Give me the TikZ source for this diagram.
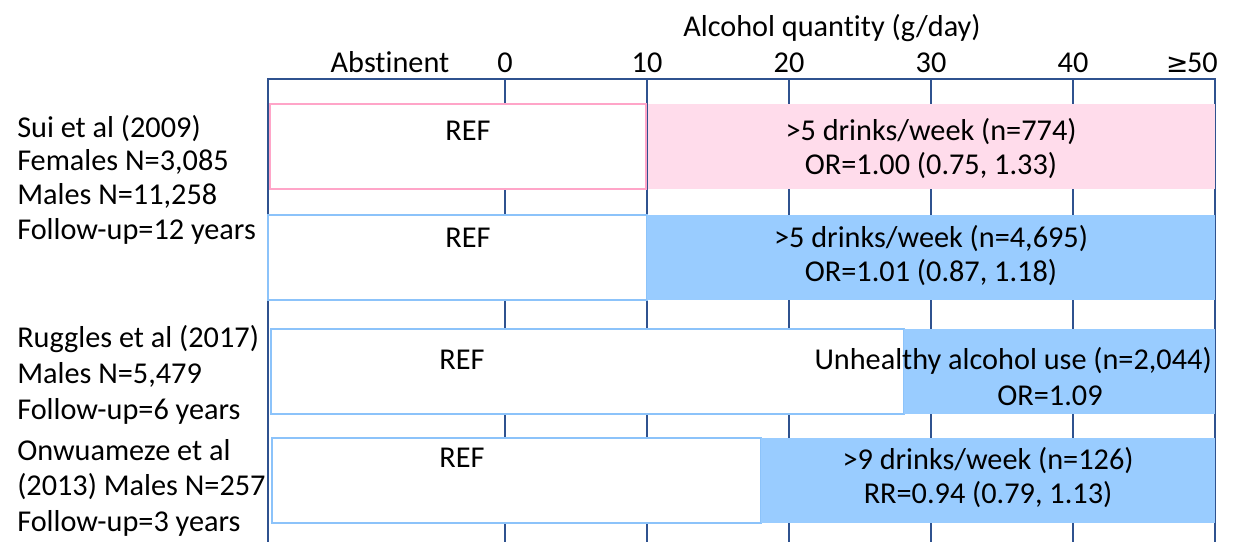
\documentclass[tikz,border=0pt]{standalone}
\usepackage{fontspec}
\setmainfont[Ligatures=NoCommon]{Carlito}
\newfontfamily\symfont{DejaVu Sans}
\begin{document}
\begin{tikzpicture}[x=0.75pt,y=-0.75pt,
  grid/.style={draw=gridblue,line width=1.1pt},
  refpink/.style={draw=pinkline,fill=white,line width=1.4pt},
  refblue/.style={draw=blueline,fill=white,line width=1.4pt},
  pinkbar/.style={fill=pinkfill},
  bluebar/.style={fill=bluefill},
  txt/.style={inner sep=0pt,anchor=base,font=\fontsize{22.7}{26}\selectfont},
  lbl/.style={inner sep=0pt,anchor=base west,font=\fontsize{22.7}{26}\selectfont}]
\definecolor{gridblue}{RGB}{47,82,143}
\definecolor{pinkline}{RGB}{255,165,200}
\definecolor{pinkfill}{RGB}{255,220,235}
\definecolor{blueline}{RGB}{140,195,250}
\definecolor{bluefill}{RGB}{153,204,255}
\useasboundingbox (0,0) rectangle (1241,542);
% frame and grid
\draw[grid] (268,542) -- (268,79) -- (1215,79) -- (1215,542);
\foreach \x in {505,647,789,931,1073}{\draw[grid] (\x,79) -- (\x,542);}
% axis labels
\node[txt] (title) at (832,37) {Alcohol quantity (g/day)};
\node[txt] (tabs) at (390,73) {Abstinent};
\node[txt] (t0) at (505,73) {0};
\node[txt] (t10) at (647,73) {10};
\node[txt] (t20) at (789,73) {20};
\node[txt] (t30) at (931,73) {30};
\node[txt] (t40) at (1073,73) {40};
\node[txt,anchor=base east] (t50) at (1218,73) {{\symfont\fontsize{20}{22}\selectfont ≥}\kern-1pt50};
% row 1 (females)
\path[refpink] (270,104) rectangle (646,189);
\path[pinkbar] (648,104) rectangle (1215,189);
\node[txt] (r1ref) at (468,140) {REF};
\node[txt] (r1a) at (931,140) {>5 drinks/week (n=774)};
\node[txt] (r1b) at (931,174) {OR=1.00 (0.75, 1.33)};
% row 2 (males)
\path[refblue] (268,215) rectangle (647,300);
\path[bluebar] (647,215) rectangle (1215,300);
\node[txt] (r2ref) at (468,247) {REF};
\node[txt] (r2a) at (931,247) {>5 drinks/week (n=4,695)};
\node[txt] (r2b) at (931,281) {OR=1.01 (0.87, 1.18)};
% row 3
\path[refblue] (271,329) rectangle (904,414);
\path[bluebar] (904,329) rectangle (1215,414);
\node[txt] (r3ref) at (462,369) {REF};
\node[txt,anchor=base east] (r3a) at (1212,369) {Unhealthy alcohol use (n=2,044)};
\node[txt] (r3b) at (1050,405) {OR=1.09};
% row 4
\path[refblue] (272,438) rectangle (761,523);
\path[bluebar] (761,438) rectangle (1215,523);
\node[txt] (r4ref) at (462,467) {REF};
\node[txt] (r4a) at (988,469) {>9 drinks/week (n=126)};
\node[txt] (r4b) at (988,503) {RR=0.94 (0.79, 1.13)};
% study labels
\node[lbl] (s1a) at (17,137) {Sui et al (2009)};
\node[lbl] (s1b) at (17,170) {Females N=3,085};
\node[lbl] (s1c) at (17,204) {Males N=11,258};
\node[lbl] (s1d) at (17,239) {Follow-up=12 years};
\node[lbl] (s2a) at (17,347) {Ruggles et al (2017)};
\node[lbl] (s2b) at (17,383) {Males N=5,479};
\node[lbl] (s2c) at (17,419) {Follow-up=6 years};
\node[lbl] (s3a) at (17,460) {Onwuameze et al};
\node[lbl] (s3b) at (17,495) {(2013) Males N=257};
\node[lbl] (s3c) at (17,531) {Follow-up=3 years};
\end{tikzpicture}
\end{document}
